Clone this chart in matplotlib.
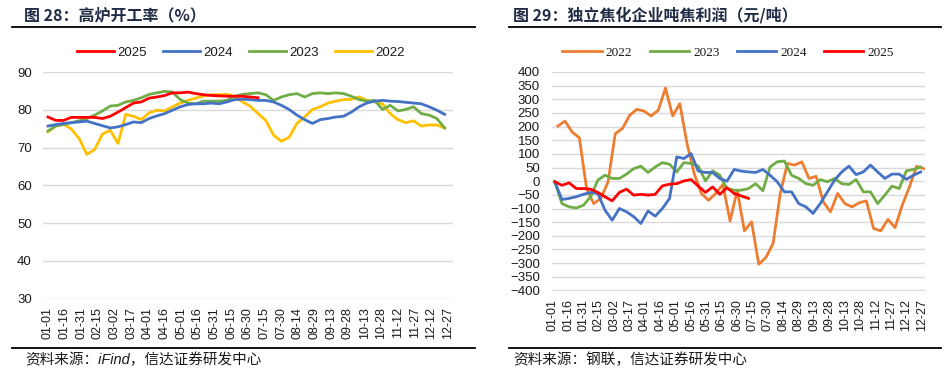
import numpy as np
import matplotlib.pyplot as plt
from matplotlib.lines import Line2D

plt.rcParams['font.family'] = ['Liberation Sans', 'Noto Sans CJK SC']

# x轴刻度 (按年内天数)
tick_days = np.arange(0, 361, 15)
tick_labels = ['01-01', '01-16', '01-31', '02-15', '03-02', '03-17', '04-01', '04-16',
               '05-01', '05-16', '05-31', '06-15', '06-30', '07-15', '07-30', '08-14',
               '08-29', '09-13', '09-28', '10-13', '10-28', '11-12', '11-27', '12-12', '12-27']

# 图28 高炉开工率 (%), 周度
bf_2025 = [78.1, 77.2, 77.2, 78.0, 78.0, 78.0, 78.0, 77.7, 78.3, 79.4, 80.6, 81.8, 82.1, 83.1,
           83.4, 83.8, 84.5, 84.5, 84.7, 84.3, 84.0, 83.8, 83.7, 83.6, 83.6, 83.6, 83.4, 83.2]
bf_2024 = [75.7, 76.1, 76.4, 76.6, 76.8, 77.0, 76.4, 75.8, 75.2, 75.5, 76.1, 76.8, 76.6, 77.7,
           78.4, 79.0, 79.9, 80.8, 81.4, 81.6, 81.6, 81.8, 81.6, 82.1, 82.7, 82.8, 82.7, 82.5,
           82.5, 82.1, 81.2, 80.1, 78.6, 77.4, 76.4, 77.4, 77.7, 78.1, 78.3, 79.4, 80.8, 81.8,
           82.3, 82.5, 82.3, 82.2, 82.0, 81.8, 81.6, 80.8, 79.9, 78.8]
bf_2023 = [74.4, 75.7, 76.1, 76.6, 77.1, 77.7, 78.6, 79.7, 81.0, 81.2, 82.1, 82.5, 83.2, 84.1,
           84.5, 84.9, 84.7, 82.7, 81.8, 81.6, 82.3, 82.3, 82.3, 82.5, 83.6, 84.1, 84.3, 84.5,
           84.0, 82.5, 83.4, 84.0, 84.3, 83.4, 84.3, 84.5, 84.3, 84.5, 84.3, 83.6, 82.7, 82.3,
           82.5, 80.1, 81.2, 79.7, 80.1, 80.8, 79.0, 78.6, 77.7, 75.2]
bf_2022 = [74.2, 75.7, 76.2, 74.9, 72.4, 68.2, 69.5, 73.6, 74.6, 71.1, 78.8, 78.3, 77.4, 79.2,
           79.9, 79.7, 80.8, 81.8, 82.5, 83.1, 83.7, 84.0, 84.0, 84.1, 83.6, 82.1, 81.0, 79.0,
           77.2, 73.3, 71.7, 72.7, 76.4, 78.1, 80.1, 80.8, 81.8, 82.3, 82.7, 82.8, 83.4, 82.5,
           82.1, 81.6, 79.0, 77.4, 76.6, 77.1, 75.7, 76.0, 76.0, 75.2]

# 图29 独立焦化企业吨焦利润 (元/吨), 周度
coke_2022 = [202, 220, 180, 159, -27, -82, -63, -2, 174, 193, 241, 263, 257, 239, 260, 341,
             239, 284, 138, 28, -45, -70, -45, -12, -146, -33, -182, -149, -304, -279, -228,
             -45, 65, 59, 71, 10, 18, -76, -112, -45, -82, -94, -79, -72, -173, -182, -140,
             -170, -88, -21, 55, 46]
coke_2023 = [-2, -82, -94, -98, -88, -57, 4, 22, 10, 10, 26, 46, 55, 32, 52, 68, 62, 34, 68,
             65, 55, 1, 38, 22, -27, -33, -33, -27, -9, -35, 52, 71, 74, 22, 10, -9, -15, 6,
             -2, 10, -9, -12, 6, -39, -39, -82, -51, -18, -27, 38, 43, 52]
coke_2024 = [-2, -67, -63, -57, -48, -41, -45, -106, -143, -100, -112, -130, -155, -109, -128,
             -100, -63, 89, 83, 101, 37, 32, 32, 10, 0, 43, 37, 34, 32, 43, 22, -2, -39, -39,
             -82, -94, -118, -82, -39, 4, 34, 55, 24, 34, 59, 34, 10, 26, 26, 7, 22, 34]
coke_2025 = [-2, -15, -6, -27, -27, -29, -41, -57, -72, -41, -29, -51, -48, -51, -48, -17,
             -11, -9, 1, 6, -18, -41, -21, -48, -24, -45, -54, -63]


def weekly(vals, start):
    return start + 7 * np.arange(len(vals))


W, H = 953, 377
fig = plt.figure(figsize=(W / 100, H / 100), dpi=100)
title_color = '#1f2a44'
grid_color = '#d9d9d9'
lw = 2.0


def setup(ax, ylim, yticks):
    ax.set_xlim(*ylim[0])
    ax.set_ylim(*ylim[1])
    ax.set_yticks(yticks)
    ax.set_xticks(tick_days)
    ax.set_xticklabels(tick_labels, rotation=90)
    ax.grid(True, axis='y', color=grid_color, linewidth=1.0)
    ax.set_axisbelow(True)
    for s in ax.spines.values():
        s.set_visible(False)
    ax.tick_params(length=0, colors='#1a1a1a')


# ---- 左图 ----
ax1 = fig.add_axes([43 / W, 1 - 299 / H, 410 / W, 227.3 / H])
setup(ax1, ((-4.5, 364.5), (29.9, 90.1)), np.arange(30, 91, 10))
ax1.tick_params(axis='y', labelsize=9.5, pad=8)
ax1.tick_params(axis='x', labelsize=9, pad=6)
l22, = ax1.plot(weekly(bf_2022, 0), bf_2022, color='#ffc000', lw=lw)
l23, = ax1.plot(weekly(bf_2023, 0), bf_2023, color='#70ad47', lw=lw)
l24, = ax1.plot(weekly(bf_2024, 0), bf_2024, color='#4472c4', lw=lw)
l25, = ax1.plot(weekly(bf_2025, 0), bf_2025, color='#ff0000', lw=lw)
fig.legend([l25, l24, l23, l22], ['2025', '2024', '2023', '2022'], loc='center',
           bbox_to_anchor=(241 / W, 1 - 53 / H), ncol=4, frameon=False, fontsize=9.5,
           handlelength=2.8, handletextpad=0.25, columnspacing=1.25, labelcolor='#1a1a1a')

# ---- 右图 ----
ax2 = fig.add_axes([551.7 / W, 1 - 290.7 / H, 373.3 / W, 219 / H])
setup(ax2, ((-1, 363.2), (-401, 401)), np.arange(-400, 401, 50))
ax2.tick_params(axis='y', labelsize=9.5, pad=8.5)
ax2.tick_params(axis='x', labelsize=9, pad=6)
r22, = ax2.plot(weekly(coke_2022, 5), coke_2022, color='#ed7d31', lw=lw)
r23, = ax2.plot(weekly(coke_2023, 2), coke_2023, color='#70ad47', lw=lw)
r24, = ax2.plot(weekly(coke_2024, 2), coke_2024, color='#4472c4', lw=lw)
r25, = ax2.plot(weekly(coke_2025, 2), coke_2025, color='#ff0000', lw=lw)
fig.legend([r22, r23, r24, r25], ['2022', '2023', '2024', '2025'], loc='center',
           bbox_to_anchor=(728 / W, 1 - 53 / H), ncol=4, frameon=False,
           prop={'family': 'Liberation Serif', 'size': 9.5},
           handlelength=3.0, handletextpad=0.3, columnspacing=1.3, labelcolor='#1a1a1a')

# ---- 标题、分隔线、来源 ----
cjk = ['Noto Sans CJK SC', 'DejaVu Sans']
fig.text(24 / W, 1 - 15 / H, '图 28：高炉开工率（%）', fontsize=11.5, weight='bold',
         color=title_color, va='center', family=cjk)
fig.text(513 / W, 1 - 15 / H, '图 29：独立焦化企业吨焦利润（元/吨）', fontsize=11.5,
         weight='bold', color=title_color, va='center', family=cjk)

for x0, x1 in [(12, 475), (509, 941)]:
    for y in (27.3, 348.3):
        fig.add_artist(Line2D([x0 / W, x1 / W], [1 - y / H, 1 - y / H], color='black',
                              lw=1.3, transform=fig.transFigure))

fig.text(25 / W, 1 - 360 / H, '资料来源：iFind，信达证券研发中心', fontsize=10.5,
         style='italic', color='#1a1a1a', va='center',
         family=['Liberation Sans', 'Noto Sans CJK SC'])
fig.text(513 / W, 1 - 360 / H, '资料来源：钢联，信达证券研发中心', fontsize=10.5,
         style='italic', color='#1a1a1a', va='center', family=cjk)

fig.savefig('out.png', dpi=100)
